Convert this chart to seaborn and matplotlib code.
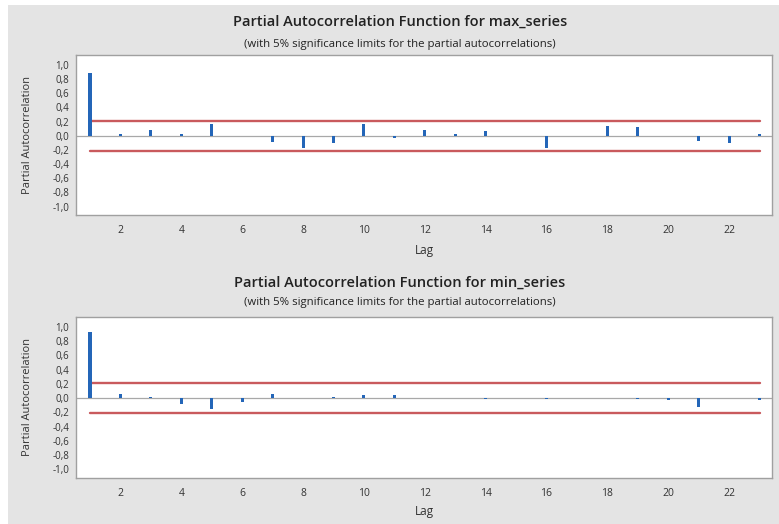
import numpy as np
import pandas as pd
import matplotlib.pyplot as plt
import matplotlib.patches as mpatches
import seaborn as sns

# lags and partial autocorrelations
lags = list(range(1, 24))
max_pacf = [0.89, 0.02, 0.075, 0.03, 0.16, 0.0, -0.09, -0.17, -0.11, 0.16, -0.03,
            0.075, 0.03, 0.065, 0.0, -0.17, 0.0, 0.14, 0.12, 0.0, -0.075, -0.10, 0.025]
min_pacf = [0.93, 0.055, 0.02, -0.075, -0.145, -0.05, 0.055, 0.0, 0.02, 0.05, 0.05,
            0.0, 0.0, -0.01, 0.0, -0.01, 0.0, 0.0, -0.01, -0.02, -0.12, 0.0, -0.03]
sig_limit = 0.21
series_names = ["max_series", "min_series"]
y_ticks = [1.0, 0.8, 0.6, 0.4, 0.2, 0.0, -0.2, -0.4, -0.6, -0.8, -1.0]
y_tick_labels = [f"{v:.1f}".replace(".", ",") for v in y_ticks]
x_ticks = list(range(2, 23, 2))

sns.set_style("white")
plt.rcParams['font.family'] = ['Open Sans', 'DejaVu Sans']

bar_color = "#2466b8"
limit_color = "#c95a5d"
panel_bg = "#e4e4e4"

fig = plt.figure(figsize=(7.79, 5.24), dpi=100)
fig.patch.set_facecolor("white")
fig.patches.append(mpatches.Rectangle((8 / 779, 0), 1, 1 - 5 / 524,
                                      transform=fig.transFigure,
                                      facecolor=panel_bg, edgecolor="none", zorder=-10))

ax_top = fig.add_axes([76 / 779, 1 - 215 / 524, 696 / 779, 160 / 524])
ax_bot = fig.add_axes([76 / 779, 1 - 478 / 524, 696 / 779, 161 / 524])

panels = [(ax_top, max_pacf, series_names[0], 22, 44, 250),
          (ax_bot, min_pacf, series_names[1], 283, 302, 512)]

for ax, vals, name, ty, sy, ly in panels:
    df = pd.DataFrame({"Lag": lags, "PACF": vals})
    ax.axhline(0, color="#a8a8a8", lw=0.9, zorder=1)
    sns.barplot(data=df, x="Lag", y="PACF", native_scale=True, width=0.1,
                color=bar_color, saturation=1, linewidth=0, ax=ax, zorder=3)
    lim_df = pd.DataFrame({"Lag": [lags[0], lags[-1]]})
    for s in (sig_limit, -sig_limit):
        sns.lineplot(x=lim_df["Lag"], y=[s, s], color=limit_color, lw=1.7, ax=ax, zorder=2)

    ax.set_xlim(0.54, 23.41)
    ax.set_ylim(-1.12, 1.14)
    ax.set_yticks(y_ticks)
    ax.set_yticklabels(y_tick_labels)
    ax.set_xticks(x_ticks)
    ax.tick_params(axis="both", direction="out", length=3, width=0.6,
                   color="#808080", labelsize=7, labelcolor="#333333", pad=2)
    ax.tick_params(axis="x", labelsize=7.5, pad=4)
    ax.set_facecolor("white")
    for sp in ax.spines.values():
        sp.set_color("#a0a0a0")
        sp.set_linewidth(1.0)
    ax.set_xlabel("")
    ax.set_ylabel("Partial Autocorrelation", fontsize=8, color="#333333")
    ax.yaxis.set_label_coords(-43 / 696, 0.5)

    fig.text(400 / 779, 1 - ty / 524, f"Partial Autocorrelation Function for {name}",
             ha="center", va="center", fontsize=10.5, fontweight="semibold", color="#222222")
    fig.text(400 / 779, 1 - sy / 524,
             "(with 5% significance limits for the partial autocorrelations)",
             ha="center", va="center", fontsize=8.2, color="#222222")
    fig.text(424 / 779, 1 - ly / 524, "Lag", ha="center", va="center",
             fontsize=8.5, color="#333333")

fig.savefig("out.png", dpi=100, facecolor=fig.get_facecolor())
